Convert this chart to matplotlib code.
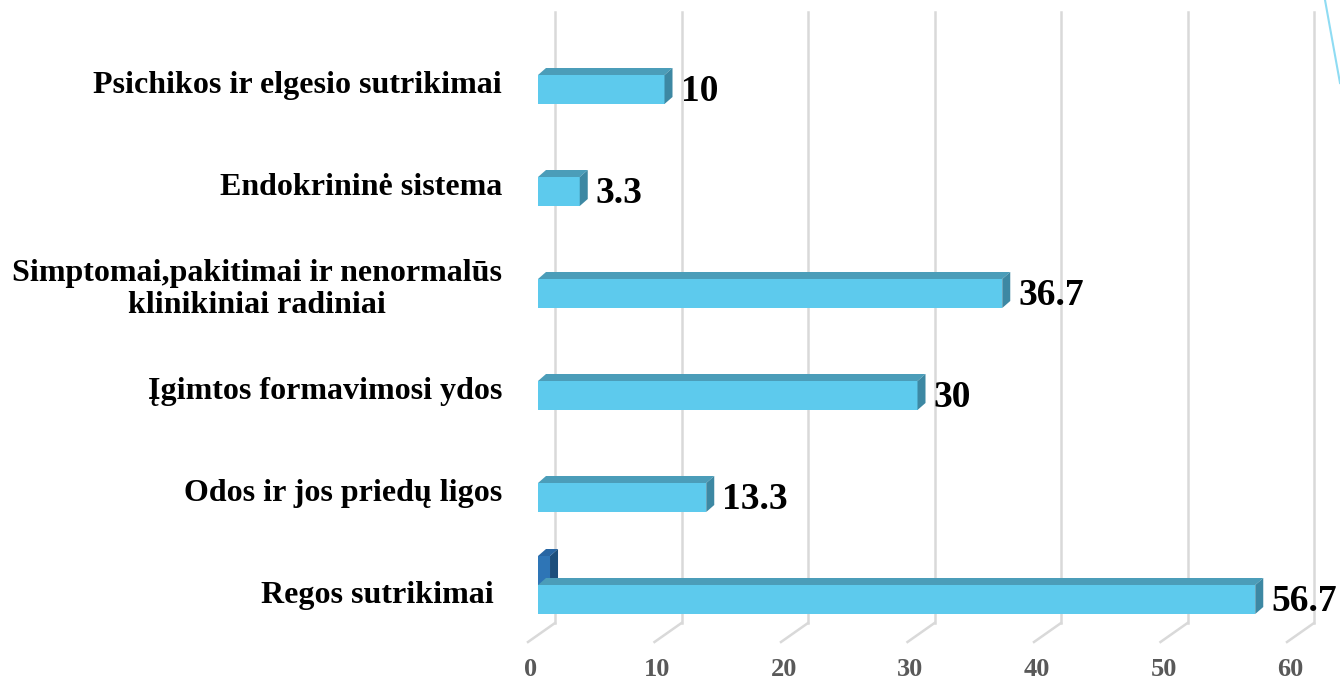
import numpy as np
import matplotlib.pyplot as plt
from matplotlib.patches import Polygon, Rectangle
from matplotlib.lines import Line2D

# data, listed bottom -> top as the chart shows it
categories = ["Regos sutrikimai ",
              "Odos ir jos priedų ligos",
              "Įgimtos formavimosi ydos",
              "Simptomai,pakitimai ir nenormalūs\nklinikiniai radiniai",
              "Endokrininė sistema",
              "Psichikos ir elgesio sutrikimai"]
values = [56.7, 13.3, 30, 36.7, 3.3, 10]
values2 = [0.95, 0, 0, 0, 0, 0]                                              # small second series (dark sliver)
value_labels = ["56.7", "13.3", "30", "36.7", "3.3", "10"]
xticks = [0, 10, 20, 30, 40, 50, 60]

W = 1340; Hpx = 684
sx = 12.65; sy = 102.0                                                       # px per value unit / per category
x0px = 538.0; y0px = 599.5                                                   # pixel of value 0 / first bar centre

fig = plt.figure(figsize=(W/100, Hpx/100), dpi=100)
ax = fig.add_axes([0, 0, 1, 1])
ax.set_xlim(-x0px/sx, (W-x0px)/sx)
ax.set_ylim((y0px-Hpx)/sy, y0px/sy)
ax.axis('off')

ddx = 8/sx; ddy = 7/sy                                                       # 3d depth of bars
bh = 29/sy                                                                   # bar thickness
gdx = 17/sx                                                                  # back wall offset
gtop = (y0px-12)/sy; gbot = (y0px-623)/sy
fdx = -10/sx; fbot = (y0px-642)/sy

# gridlines on back wall + floor
for t in xticks:
    ax.add_line(Line2D([t+gdx, t+gdx], [gbot, gtop], color='#d9d9d9', lw=1.8, zorder=1))
    ax.add_line(Line2D([t+gdx, t+fdx], [gbot, fbot], color='#d9d9d9', lw=1.8, zorder=1))
    ax.text(t-7/sx, (y0px-669)/sy, str(t), ha='center', va='center',
            fontsize=19, fontweight='bold', color='#595959', family='Liberation Serif')


def bar3d(v, k, front, top, side):
    lo = k-bh/2; hi = k+bh/2
    ax.add_patch(Rectangle((0, lo), v, bh, fc=front, ec='none', zorder=3))
    ax.add_patch(Polygon([(0, hi), (v, hi), (v+ddx, hi+ddy), (ddx, hi+ddy)], fc=top, ec='none', zorder=3))
    ax.add_patch(Polygon([(v, lo), (v+ddx, lo+ddy), (v+ddx, hi+ddy), (v, hi)], fc=side, ec='none', zorder=3))


for k in range(len(categories)):
    if values2[k] > 0:                                                       # dark series sits just above
        bar3d(values2[k], k+bh, '#2e75b6', '#2866a3', '#1d4f7c')
    bar3d(values[k], k, '#5dcaed', '#4b9db9', '#3d88a3')
    ax.text(values[k]+ddx+8/sx, k-0.02, value_labels[k], ha='left', va='center',
            fontsize=27, fontweight='bold', color='black', family='Liberation Serif', zorder=4)
    ax.text((502-x0px)/sx, k+0.04, categories[k], ha='right', va='center', multialignment='center',
            fontsize=23, fontweight='bold', color='black', family='Liberation Serif', linespacing=1.1)

# decorative line at top right corner
fig.add_artist(Line2D([1325/W, 1.0], [1.0, 1-83/Hpx], transform=fig.transFigure, color='#8fdcf3', lw=1.5))

fig.savefig('out.png', dpi=100, facecolor='white')
